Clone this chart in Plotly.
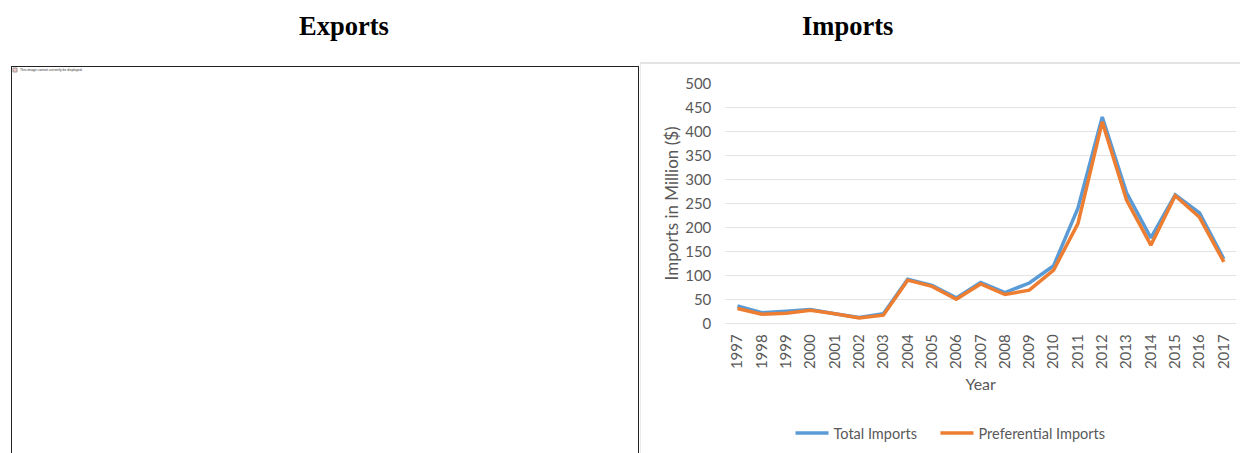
import plotly.graph_objects as go

years = [str(y) for y in range(1997, 2018)]
total_imports = [36, 22, 25, 29, 20, 12, 20, 92, 79, 53, 85, 64, 84, 120, 240, 430, 272, 178, 268, 230, 134]
preferential_imports = [31, 19, 21, 27, 20, 11, 17, 90, 77, 50, 82, 60, 69, 111, 208, 420, 257, 163, 266, 221, 128]
y_ticks = list(range(0, 501, 50))

W, H = 1240, 453
BLUE, ORANGE = "#5B9BD5", "#ED7D31"
GREY = "#595959"
FONT = "Lato, Carlito, sans-serif"

fig = go.Figure()
fig.add_trace(go.Scatter(x=years, y=total_imports, name="Total Imports", mode="lines",
                         line=dict(color=BLUE, width=3.5), legend="legend"))
fig.add_trace(go.Scatter(x=years, y=preferential_imports, name="Preferential Imports", mode="lines",
                         line=dict(color=ORANGE, width=3.5), legend="legend2"))

# Panel headings, the unavailable-image notice and the two panel frames
annotations = [
    dict(text="<b>Exports</b>", x=344 / W, y=1 - 26.5 / H, xanchor="center", yanchor="middle",
         font=dict(family="Liberation Serif", size=26.5, color="#000000")),
    dict(text="<b>Imports</b>", x=847 / W, y=1 - 26.5 / H, xanchor="center", yanchor="middle",
         font=dict(family="Liberation Serif", size=26.5, color="#000000")),
    dict(text="This image cannot currently be displayed.", x=18 / W, y=1 - 70 / H,
         xanchor="left", yanchor="middle", font=dict(family="Liberation Sans", size=3.4, color="#333333")),
]
for a in annotations:
    a.update(xref="paper", yref="paper", showarrow=False)

def rect(x0, y0, x1, y1, **kw):
    return dict(type="rect", xref="paper", yref="paper", x0=x0 / W, x1=x1 / W,
                y0=1 - y0 / H, y1=1 - y1 / H, **kw)

def seg(x0, y0, x1, y1, color, width):
    return dict(type="line", xref="paper", yref="paper", x0=x0 / W, x1=x1 / W,
                y0=1 - y0 / H, y1=1 - y1 / H, line=dict(color=color, width=width))

shapes = [
    seg(11.5, 66.5, 638.5, 66.5, "#222222", 1),
    seg(11.5, 66, 11.5, 453, "#222222", 1),
    seg(638.5, 66, 638.5, 453, "#222222", 1),
    rect(13, 68, 17, 72, line=dict(color="#999999", width=1), fillcolor="#F4C6C6"),
    seg(640, 63, 1240, 63, "#DADADA", 1.5),
    seg(640.5, 63, 640.5, 453, "#EBEBEB", 1),
]

legend_style = dict(orientation="h", yanchor="middle", xanchor="left", y=1 - 433 / H,
                    font=dict(family=FONT, size=14.5, color=GREY), itemwidth=33,
                    bgcolor="rgba(0,0,0,0)")

fig.update_layout(
    width=W, height=H, autosize=False,
    margin=dict(l=0, r=0, t=0, b=0),
    paper_bgcolor="white", plot_bgcolor="white",
    font=dict(family=FONT, size=15, color=GREY),
    annotations=annotations, shapes=shapes,
    showlegend=True,
    legend=dict(x=790.5 / W, **legend_style),
    legend2=dict(x=935.5 / W, **legend_style),
    xaxis=dict(domain=[725.3 / W, 1236 / W], type="category", categoryorder="array", categoryarray=years,
               range=[-0.5, 20.5], tickangle=-90, showgrid=False, showline=False, ticks="",
               zeroline=False, automargin=False, ticklabelstandoff=7, tickfont=dict(size=15, color=GREY),
               title=dict(text="Year", font=dict(size=16, color=GREY), standoff=10)),
    yaxis=dict(domain=[1 - 323.3 / H, 1 - 83.5 / H], range=[0, 500], tickmode="array", tickvals=y_ticks,
               gridcolor="#E2E2E2", gridwidth=1.2, showline=False, ticks="", zeroline=True,
               zerolinecolor="#E2E2E2", zerolinewidth=1.2, automargin=False, ticklabelstandoff=13,
               tickfont=dict(size=15, color=GREY),
               title=dict(text="Imports in Million ($)", font=dict(size=17, color=GREY), standoff=2)),
)

fig.write_html("out.html")
